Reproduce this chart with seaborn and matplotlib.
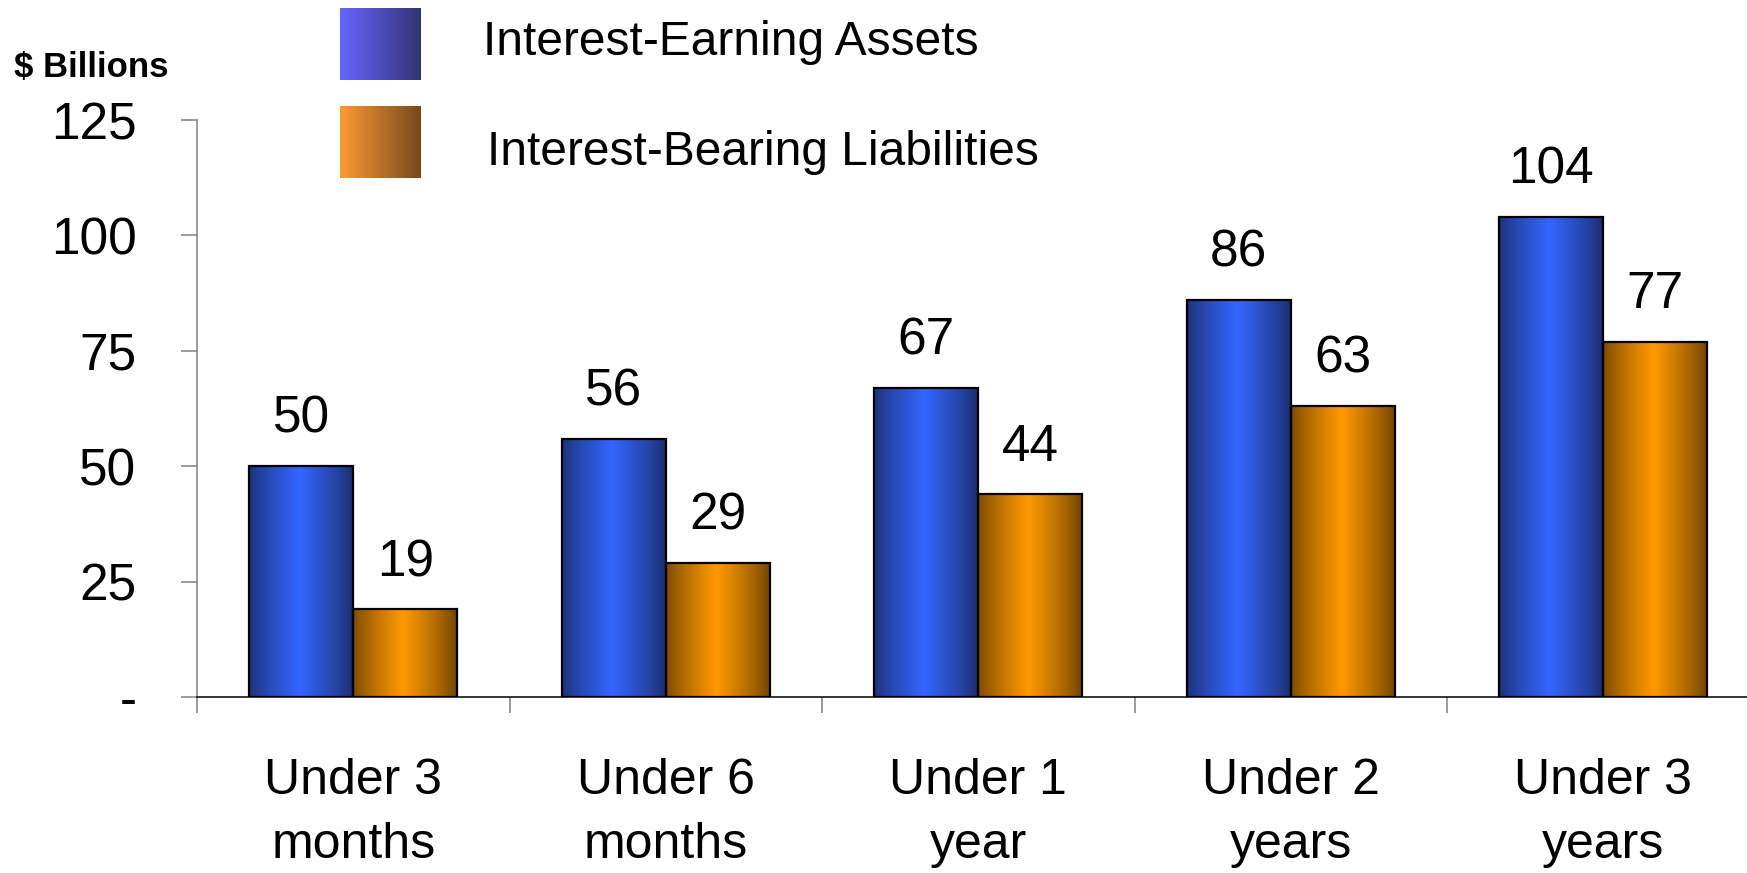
import numpy as np
import pandas as pd
import matplotlib
matplotlib.use('Agg')
import matplotlib.pyplot as plt
import seaborn as sns
from matplotlib.colors import LinearSegmentedColormap

# data
categories = ['Under 3\nmonths', 'Under 6\nmonths', 'Under 1\nyear', 'Under 2\nyears', 'Under 3\nyears']
assets = [50, 56, 67, 86, 104]
liabilities = [19, 29, 44, 63, 77]
series = ['Interest-Earning Assets', 'Interest-Bearing Liabilities']
y_ticks = [0, 25, 50, 75, 100, 125]
y_ticklabels = ['-', '25', '50', '75', '100', '125']

df = pd.DataFrame({
    'period': categories * 2,
    'value': assets + liabilities,
    'series': [series[0]] * len(categories) + [series[1]] * len(categories),
})

sns.set_style('white')
plt.rcParams['font.family'] = ['Liberation Sans', 'DejaVu Sans']
plt.rcParams['text.color'] = 'black'
plt.rcParams['xtick.labelcolor'] = 'black'
plt.rcParams['ytick.labelcolor'] = 'black'

W, H = 1747, 873
fig = plt.figure(figsize=(W / 100, H / 100), dpi=100)
ax = fig.add_axes([197 / W, 1 - 697 / H, 1562.5 / W, 577 / H])

sns.barplot(data=df, x='period', y='value', hue='series', order=categories,
            hue_order=series, palette=['#3366ff', '#ff9900'], width=0.667,
            edgecolor='black', linewidth=1.6, legend=False, ax=ax)

# horizontal shading on each bar: dark edges, bright middle
bar_cmaps = [LinearSegmentedColormap.from_list('b', ['#1a2b66', '#3366ff']),
             LinearSegmentedColormap.from_list('o', ['#6b4000', '#ff9900'])]
t = np.linspace(0, 1, 200)
prof = 1 - np.abs(t - 0.48) / 0.52
prof = np.clip(prof, 0, 1) ** 0.8
grad = prof[np.newaxis, :]
for cont, cmap in zip(ax.containers, bar_cmaps):
    for bar in cont:
        x0, y0 = bar.get_x(), bar.get_y()
        w, h = bar.get_width(), bar.get_height()
        ax.imshow(grad, extent=[x0, x0 + w, y0, y0 + h], aspect='auto',
                  cmap=cmap, vmin=0, vmax=1, zorder=bar.get_zorder() - 0.5,
                  interpolation='bilinear')
        bar.set_facecolor('none')
    ax.bar_label(cont, fmt='%d', padding=16, fontsize=37, color='black')

ax.set_xlim(-0.5, len(categories) - 0.5)
ax.set_ylim(0, 125)
ax.set_xlabel('')
ax.set_ylabel('')

ax.set_yticks(y_ticks)
ax.set_yticklabels(y_ticklabels, fontsize=37)
ax.tick_params(axis='y', length=11.5, width=1.1, color='#808080', pad=32, left=True)

ax.set_xticks(range(len(categories)))
ax.set_xticklabels(categories, fontsize=36, linespacing=1.5)
ax.tick_params(axis='x', which='major', length=0, pad=44)
ax.set_xticks(np.arange(-0.5, len(categories) - 0.5), minor=True)
ax.tick_params(axis='x', which='minor', length=11.5, width=1.1, color='#808080', bottom=True)

for s in ['top', 'right']:
    ax.spines[s].set_visible(False)
ax.spines['left'].set_color('#808080')
ax.spines['left'].set_linewidth(1.1)
ax.spines['bottom'].set_color('black')
ax.spines['bottom'].set_linewidth(1.1)

# legend swatches with their own gradient
leg_cmaps = [LinearSegmentedColormap.from_list('lb', ['#6666ff', '#333377']),
             LinearSegmentedColormap.from_list('lo', ['#ff9933', '#774a1a'])]
sw_tops = [8, 106]
txt_base = [55, 165]
txt_x = [483, 487]
for name, cmap, top, base, tx in zip(series, leg_cmaps, sw_tops, txt_base, txt_x):
    sax = fig.add_axes([340 / W, 1 - (top + 72) / H, 81 / W, 72 / H])
    sax.imshow(np.linspace(0, 1, 100)[np.newaxis, :], aspect='auto', cmap=cmap)
    sax.axis('off')
    fig.text(tx / W, 1 - base / H, name, fontsize=34.5, va='baseline', ha='left')

fig.text(14 / W, 1 - 77 / H, '$ Billions', fontsize=25, fontweight='bold',
         va='baseline', ha='left')

fig.savefig('out.png', dpi=100)
